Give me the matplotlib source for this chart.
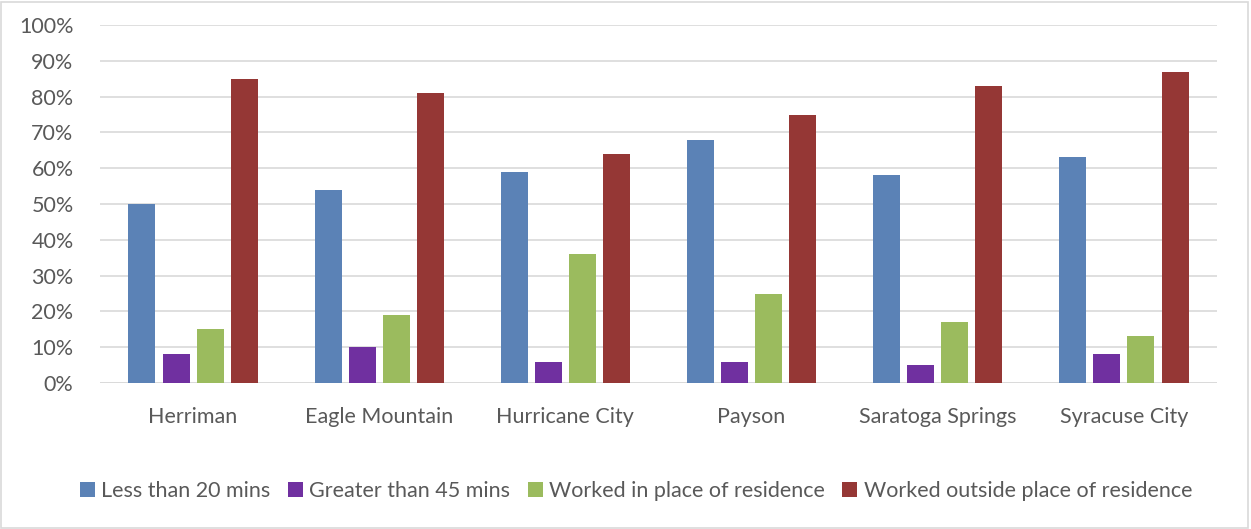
import matplotlib
matplotlib.use("Agg")
import matplotlib.pyplot as plt
from matplotlib.patches import Rectangle
import numpy as np

categories = ["Herriman", "Eagle Mountain", "Hurricane City", "Payson",
              "Saratoga Springs", "Syracuse City"]
series_names = ["Less than 20 mins", "Greater than 45 mins",
                "Worked in place of residence", "Worked outside place of residence"]
less_than_20 = [50, 54, 59, 68, 58, 63]
greater_than_45 = [8, 10, 6, 6, 5, 8]
worked_in_place = [15, 19, 36, 25, 17, 13]
worked_outside = [85, 81, 64, 75, 83, 87]
y_ticks = [0, 10, 20, 30, 40, 50, 60, 70, 80, 90, 100]

colors = ["#5B82B6", "#7030A0", "#9BBB5E", "#953735"]
text_color = "#595959"

plt.rcParams["font.family"] = ["Lato", "DejaVu Sans"]

fig = plt.figure(figsize=(12.51, 5.29), dpi=100)
ax = fig.add_axes([100 / 1251, 1 - 383 / 529, 1117 / 1251, 358 / 529])

x = np.arange(len(categories))
width = 0.145
pitch = 0.183
all_series = [less_than_20, greater_than_45, worked_in_place, worked_outside]
for i, (vals, name, c) in enumerate(zip(all_series, series_names, colors)):
    offs = (i - 1.5) * pitch
    ax.bar(x + offs, vals, width=width, color=c, label=name, zorder=3,
           linewidth=0)

ax.set_xlim(-0.5, len(categories) - 0.5)
ax.set_ylim(0, 100)
ax.set_yticks(y_ticks)
ax.set_yticklabels([f"{v}%" for v in y_ticks])
ax.set_xticks(x)
ax.set_xticklabels(categories)
ax.yaxis.grid(True, color="#D9D9D9", linewidth=1.2, zorder=0)
ax.set_axisbelow(True)
for s in ax.spines.values():
    s.set_visible(False)
ax.axhline(0, color="#D9D9D9", linewidth=1.2, zorder=2)
ax.tick_params(axis="both", length=0, labelsize=15.5, colors=text_color)
ax.tick_params(axis="x", pad=17)
ax.tick_params(axis="y", pad=19)

leg = fig.legend(loc="center", bbox_to_anchor=(636 / 1251, 1 - 491 / 529), ncol=4,
                 frameon=False, fontsize=15.5, handlelength=0.7, handleheight=0.7,
                 handletextpad=0.3, columnspacing=0.8)
for t in leg.get_texts():
    t.set_color(text_color)

fig.patches.append(Rectangle((1 / 1251, 1 / 529), 1247 / 1251, 526 / 529,
                             transform=fig.transFigure, fill=False,
                             edgecolor="#D9D9D9", linewidth=1.2))

fig.savefig("out.png", dpi=100)
